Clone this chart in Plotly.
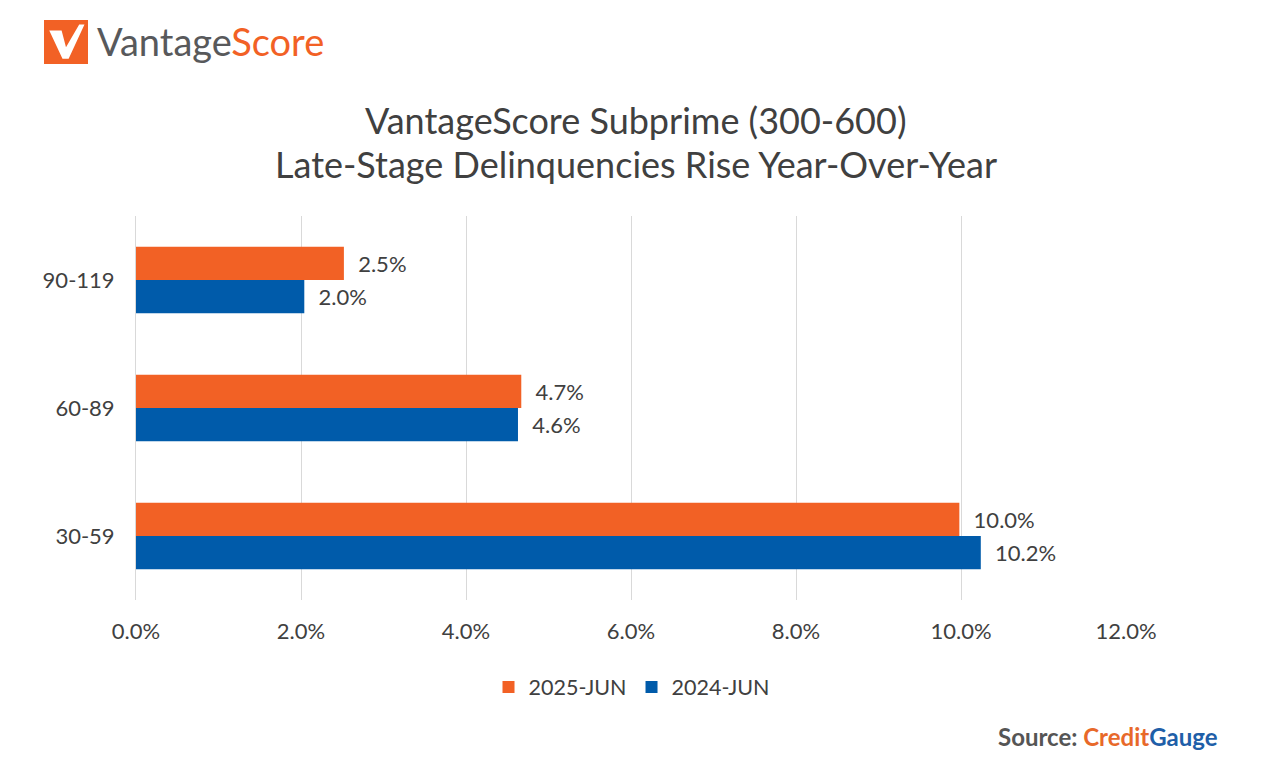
import plotly.graph_objects as go

categories = ["30-59", "60-89", "90-119"]
values_2024 = [10.24, 4.63, 2.04]
values_2025 = [9.98, 4.67, 2.52]
labels_2024 = ["10.2%", "4.6%", "2.0%"]
labels_2025 = ["10.0%", "4.7%", "2.5%"]
x_ticks = [0, 2, 4, 6, 8, 10, 12]

ORANGE = "#F26125"
BLUE = "#005BAA"
TXT = "#404040"
FONT = "Lato"

W, H = 1262, 760
L, T, PW, PH = 128, 208, 990, 384


def px(x):
    return (x - 8 - L) / PW


def py(y):
    return (T + PH - (y - 8)) / PH


pad = "\u00a0\u00a0"
fig = go.Figure()
fig.add_trace(go.Bar(
    y=categories, x=values_2024, name="2024-JUN", orientation="h",
    marker=dict(color=BLUE, line=dict(width=0)),
    text=[pad + t for t in labels_2024], textposition="outside", cliponaxis=False,
    textfont=dict(family=FONT, size=22, color=TXT),
))
fig.add_trace(go.Bar(
    y=categories, x=values_2025, name="2025-JUN", orientation="h",
    marker=dict(color=ORANGE, line=dict(width=0)),
    text=[pad + t for t in labels_2025], textposition="outside", cliponaxis=False,
    textfont=dict(family=FONT, size=22, color=TXT),
))

fig.update_layout(
    width=W, height=H,
    paper_bgcolor="white", plot_bgcolor="white",
    margin=dict(l=L, r=W - L - PW, t=T, b=H - T - PH, autoexpand=False),
    barmode="group", bargap=0.48, bargroupgap=0,
    font=dict(family=FONT, color=TXT),
    showlegend=True,
    legend=dict(orientation="h", x=px(632), xanchor="center", y=py(687), yanchor="middle",
                traceorder="reversed", font=dict(family=FONT, size=21.5, color=TXT),
                itemwidth=30),
    xaxis=dict(range=[0, 12], tickvals=x_ticks, ticktext=[f"{v:.1f}%" for v in x_ticks],
               showgrid=True, gridcolor="#D9D9D9", gridwidth=1, zeroline=False,
               showline=False, ticks="", tickfont=dict(family=FONT, size=22, color=TXT),
               ticklabelstandoff=16),
    yaxis=dict(categoryorder="array", categoryarray=categories, showgrid=False,
               showline=True, linecolor="#D9D9D9", linewidth=1, ticks="",
               tickfont=dict(family=FONT, size=22, color=TXT), ticklabelstandoff=16),
)

# Title (two lines)
fig.add_annotation(xref="paper", yref="paper", x=px(636), y=py(120.5), xanchor="center", yanchor="middle",
                   text="VantageScore Subprime (300-600)", showarrow=False,
                   font=dict(family=FONT, size=36, color=TXT))
fig.add_annotation(xref="paper", yref="paper", x=px(636), y=py(164), xanchor="center", yanchor="middle",
                   text="Late-Stage Delinquencies Rise Year-Over-Year", showarrow=False,
                   font=dict(family=FONT, size=36, color=TXT))

# Logo mark
sx0, sy0, s = 44, 20, 44
fig.add_shape(type="rect", xref="paper", yref="paper", x0=px(sx0), x1=px(sx0 + s), y0=py(sy0 + s), y1=py(sy0),
              fillcolor=ORANGE, line=dict(width=0), layer="above")
pts = [(0.12, 0.24), (0.40, 0.24), (0.50, 0.62), (0.80, 0.10), (0.92, 0.10), (0.56, 0.88), (0.42, 0.88)]
path = "M " + " L ".join(f"{px(sx0 + a * s):.5f},{py(sy0 + b * s):.5f}" for a, b in pts) + " Z"
fig.add_shape(type="path", xref="paper", yref="paper", path=path,
              fillcolor="white", line=dict(width=0), layer="above")
fig.add_annotation(xref="paper", yref="paper", x=px(95), y=py(40.5), xanchor="left", yanchor="middle",
                   text="<span style='color:#58595B'>Vantage</span><span style='color:#F26125'>Score</span>",
                   showarrow=False, font=dict(family=FONT, size=38))
# Source
fig.add_annotation(xref="paper", yref="paper", x=px(1220), y=py(736), xanchor="right", yanchor="middle",
                   text="<b><span style='color:#555555'>Source: </span><span style='color:#E8692A'>Credit</span><span style='color:#1F5FA8'>Gauge</span></b>",
                   showarrow=False, font=dict(family=FONT, size=24))

fig.write_html("out.html")
